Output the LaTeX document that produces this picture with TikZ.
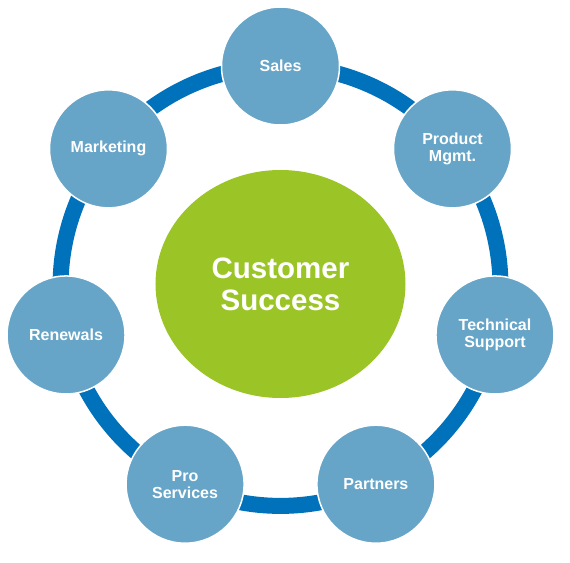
\documentclass[tikz,border=0pt]{standalone}
\usepackage{fontspec}
\setmainfont{Liberation Sans}
\usepackage{tikz}
\usetikzlibrary{shapes.geometric,backgrounds}
\definecolor{ringblue}{RGB}{0,114,188}
\definecolor{petalblue}{RGB}{102,165,200}
\definecolor{hubgreen}{RGB}{155,197,39}

\begin{document}
\begin{tikzpicture}[x=1pt,y=1pt,
    petal/.style={circle, fill=petalblue, draw=white, line width=1.5pt, minimum size=118pt, inner sep=0pt,
      align=center, text=white, font=\bfseries\fontsize{16}{17}\selectfont},
    hub/.style={ellipse, fill=hubgreen, minimum width=250pt, minimum height=228pt, inner sep=0pt,
      align=center, text=white, font=\bfseries\fontsize{29.5}{32}\selectfont},
    ring/.style={draw=ringblue, line width=16pt}]
                            \useasboundingbox (-280.5,-276) rectangle (289.5,286);
                            % Nodes
                            \node[hub] (hub) at (0,2) {Customer\\Success};
                            \foreach \name/\ang/\txt in {sales/90/{Sales}, product/38.57/{Product\\Mgmt.},
                                tech/-12.86/{Technical\\Support}, partners/-64.29/{Partners},
                                pro/-115.71/{Pro\\Services}, renewals/-167.14/{Renewals},
                                marketing/141.43/{Marketing}} {
                              \node[petal] (\name) at (\ang:220) {\txt};
                            }
                            % Edges
                            \begin{scope}[on background layer]
                            \foreach \source/\target in {sales/product, product/tech, tech/partners,
                                partners/pro, pro/renewals, renewals/marketing, marketing/sales} {
                              \draw[ring] (\source.center) to[bend left=25.71, looseness=0.896] (\target.center);
                            }
                            \end{scope}
                        \end{tikzpicture}
\end{document}
